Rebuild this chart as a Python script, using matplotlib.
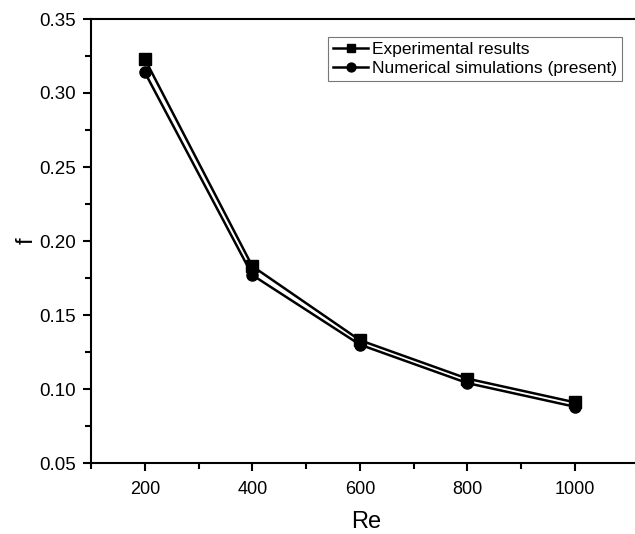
import numpy as np
import matplotlib.pyplot as plt
from matplotlib.ticker import MultipleLocator, FixedLocator

plt.rcParams['font.family'] = ['Liberation Sans', 'DejaVu Sans']

re = [200, 400, 600, 800, 1000]
f_exp = [0.323, 0.183, 0.133, 0.107, 0.091]
f_num = [0.314, 0.177, 0.130, 0.104, 0.088]

fig = plt.figure(figsize=(6.35, 5.34), dpi=100)
ax = fig.add_axes([91 / 635, 1 - 463 / 534, 550 / 635, 444 / 534])

ax.plot(re, f_exp, color='black', lw=1.8, marker='s', ms=8, label='Experimental results')
ax.plot(re, f_num, color='black', lw=1.8, marker='o', ms=8, label='Numerical simulations (present)')

ax.set_xlim(100, 1123)
ax.set_ylim(0.05, 0.35)
ax.xaxis.set_major_locator(FixedLocator([200, 400, 600, 800, 1000]))
ax.xaxis.set_minor_locator(FixedLocator([100, 300, 500, 700, 900]))
ax.yaxis.set_major_locator(MultipleLocator(0.05))
ax.yaxis.set_minor_locator(MultipleLocator(0.025))
ax.yaxis.set_major_formatter(plt.FormatStrFormatter('%.2f'))
ax.tick_params(which='major', direction='out', length=6, width=1.5, labelsize=13.5, pad=5)
ax.tick_params(axis='x', which='major', labelsize=13, pad=7)
ax.tick_params(which='minor', direction='out', length=4, width=1.5)
for s in ax.spines.values():
    s.set_linewidth(1.5)
ax.spines['right'].set_visible(False)

ax.set_xlabel('Re', fontsize=17, labelpad=9)
ax.set_ylabel('f', fontsize=17, labelpad=1)

leg = ax.legend(loc='upper right', bbox_to_anchor=(0.965, 0.96), fontsize=12.5, frameon=True,
                fancybox=False, edgecolor='#555555', handlelength=2.0, handletextpad=0.2,
                borderpad=0.3, labelspacing=0.2, borderaxespad=0, markerscale=0.8)
leg.get_frame().set_linewidth(0.8)

fig.savefig('out.png', dpi=100)
